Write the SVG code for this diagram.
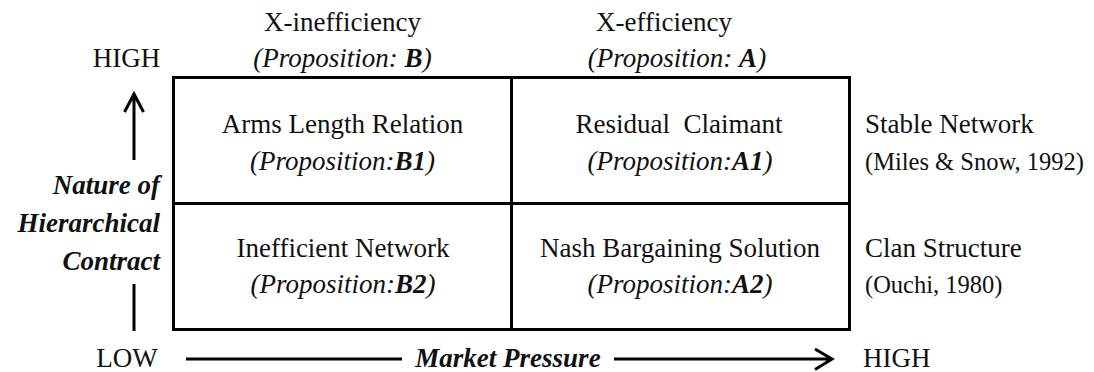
<svg xmlns="http://www.w3.org/2000/svg" width="1094" height="372" viewBox="0 0 1094 372" font-family="Liberation Serif, Times New Roman, Times, serif">
  <style>
    text { font-family: 'Liberation Serif', 'Times New Roman', Times, 'DejaVu Serif', serif; fill: #111; }
    .t { font-size: 27px; }
    .c { text-anchor: middle; }
    .it { font-style: italic; }
    .bi { font-style: italic; font-weight: bold; }
    .side { font-size: 27px; }
    .ref { font-size: 24.5px; }
    .cell { fill: #fff; stroke: #000; stroke-width: 3; }
    .axis { fill: none; stroke: #000; stroke-width: 3; stroke-linecap: butt; }
  </style>

  <rect width="1094" height="372" fill="#fff"/>

  <!-- column headers -->
  <g id="col-inefficiency">
    <text class="t c" x="342.5" y="31">X-inefficiency</text>
    <text class="t c it" x="342.5" y="67">(Proposition: <tspan class="bi">B</tspan>)</text>
  </g>
  <g id="col-efficiency">
    <text class="t c" x="664" y="31">X-efficiency</text>
    <text class="t c it" x="677" y="67">(Proposition: <tspan class="bi">A</tspan>)</text>
  </g>

  <!-- 2x2 matrix cells -->
  <g id="cell-b1">
    <rect class="cell" x="173.5" y="77.5" width="338" height="126"/>
    <text class="t c" x="342.5" y="133">Arms Length Relation</text>
    <text class="t c it" x="342.5" y="170">(Proposition:<tspan class="bi">B1</tspan>)</text>
  </g>
  <g id="cell-a1">
    <rect class="cell" x="511.5" y="77.5" width="338" height="126"/>
    <text class="t c" x="679" y="133" xml:space="preserve">Residual  Claimant</text>
    <text class="t c it" x="680" y="170">(Proposition:<tspan class="bi">A1</tspan>)</text>
  </g>
  <g id="cell-b2">
    <rect class="cell" x="173.5" y="203.5" width="338" height="126"/>
    <text class="t c" x="343" y="257">Inefficient Network</text>
    <text class="t c it" x="343" y="293">(Proposition:<tspan class="bi">B2</tspan>)</text>
  </g>
  <g id="cell-a2">
    <rect class="cell" x="511.5" y="203.5" width="338" height="126"/>
    <text class="t c" x="680" y="257">Nash Bargaining Solution</text>
    <text class="t c it" x="680" y="293">(Proposition:<tspan class="bi">A2</tspan>)</text>
  </g>

  <!-- row labels on the right -->
  <g id="row-stable">
    <text class="side" x="865" y="133">Stable Network</text>
    <text class="ref" x="865" y="170">(Miles &amp; Snow, 1992)</text>
  </g>
  <g id="row-clan">
    <text class="side" x="865" y="257">Clan Structure</text>
    <text class="ref" x="865" y="293">(Ouchi, 1980)</text>
  </g>

  <!-- vertical axis labels -->
  <g id="axis-y">
    <text class="t c" x="126.5" y="67">HIGH</text>
    <text class="t bi" x="160" y="194" text-anchor="end">Nature of</text>
    <text class="t bi" x="160" y="232" text-anchor="end">Hierarchical</text>
    <text class="t bi" x="160" y="270" text-anchor="end">Contract</text>
  </g>

  <!-- horizontal axis labels -->
  <g id="axis-x">
    <text class="t c" x="127" y="367">LOW</text>
    <text class="t bi c" x="508" y="367">Market Pressure</text>
    <text class="t" x="863" y="367">HIGH</text>
  </g>

  <!-- axis arrows -->
  <g id="connectors">
    <path class="axis" d="M134 160 V94 M124.5 112 L134 94 L143.5 112"/>
    <path class="axis" d="M134 284 V331"/>
    <path class="axis" d="M186 359 H402"/>
    <path class="axis" d="M614 359 H831 M815 349 L832 359 L815 369.5"/>
  </g>
</svg>
